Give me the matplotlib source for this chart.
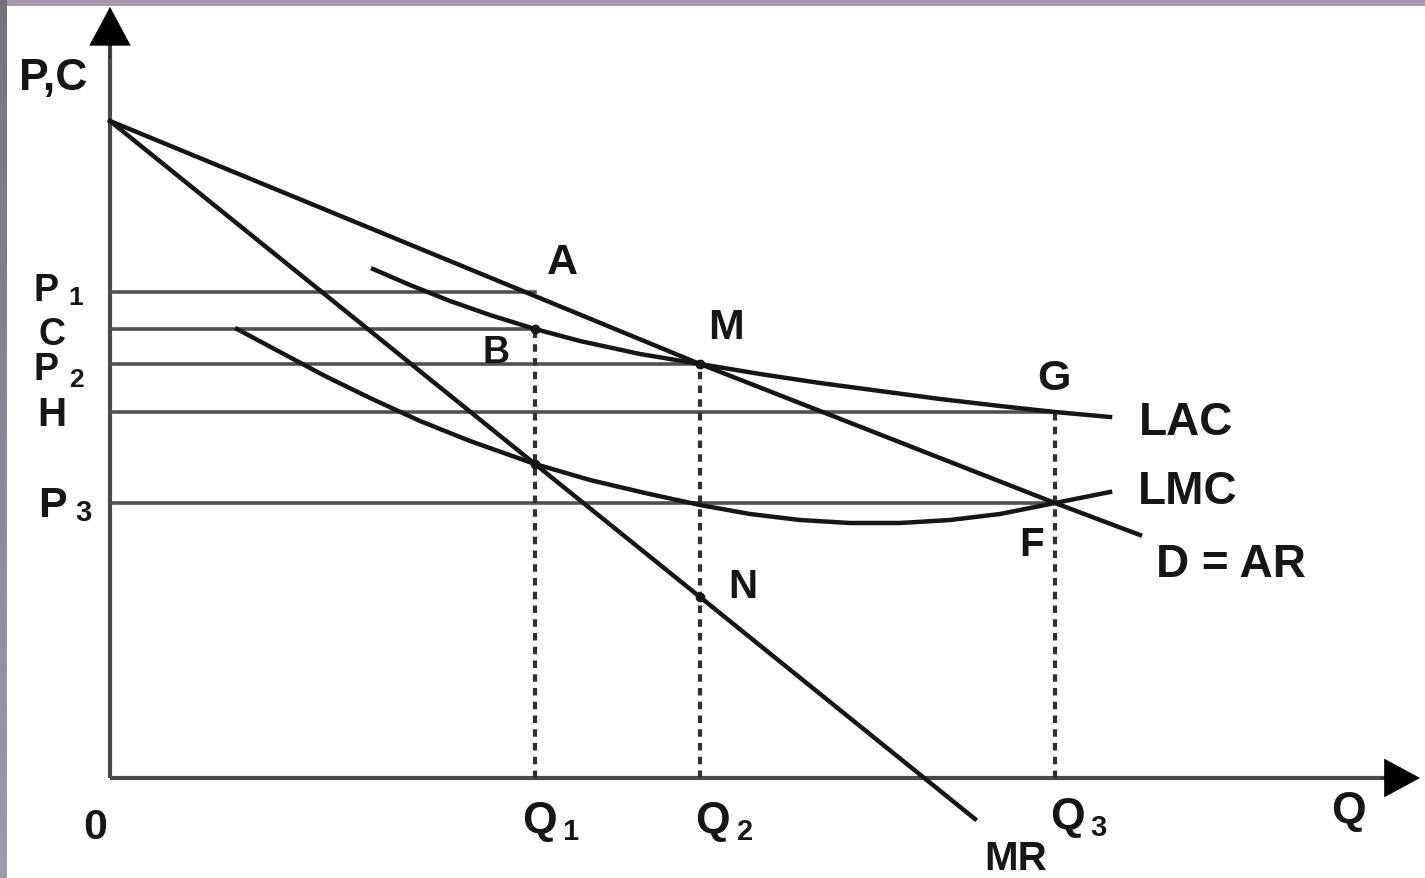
import matplotlib.pyplot as plt
import numpy as np

plt.rcParams["font.family"] = ["Liberation Sans", "DejaVu Sans"]

# quantity levels on the Q axis
q1, q2, q3 = 4.25, 5.90, 9.45
# price / cost levels on the P,C axis
p1, c_lvl, p2, h_lvl, p3 = 4.86, 4.49, 4.14, 3.66, 2.75

# demand = average revenue
ar_q = [0.0, q2, q3, 10.30]
ar_p = [6.57, p2, p3, 2.43]

# marginal revenue
mr_q = [0.0, q1, q2, 8.65]
mr_p = [6.57, 3.14, 1.81, -0.41]

# long run average cost
lac_q = [2.63, 3.0, 3.4, 3.8, q1, 4.7, 5.3, q2, 6.5, 7.1, 7.7, 8.3, 8.9, q3, 10.0]
lac_p = [5.09, 4.93, 4.77, 4.63, c_lvl, 4.37, 4.24, p2, 4.04, 3.95, 3.87, 3.79, 3.72, h_lvl, 3.61]

# long run marginal cost
lmc_q = [1.27, 1.7, 2.15, 2.6, 3.1, 3.6, q1, 4.8, 5.35, q2, 6.4, 6.9, 7.4, 7.9, 8.4, 8.9, q3, 10.0]
lmc_p = [4.49, 4.26, 4.02, 3.80, 3.57, 3.37, 3.14, 2.98, 2.85, 2.73, 2.64, 2.58, 2.55,
         2.55, 2.58, 2.64, p3, 2.86]

# horizontal guide lines: level, where it stops
hline_lvls = [p1, c_lvl, p2, h_lvl, p3]
hline_ends = [q1, q1, q2, q3, q3]

# dashed drops to the Q axis
drop_q = [q1, q2, q3]
drop_top = [c_lvl, p2, h_lvl]

# marked points
dot_q = [q1, q2, q1, q2]
dot_p = [c_lvl, p2, 3.14, 1.81]

fig = plt.figure(figsize=(14.25, 8.79), dpi=100)
ax = fig.add_axes([0, 0, 1, 1])
ax.set_xlim(-1.10, 13.15)
ax.set_ylim(-1.00, 7.79)
ax.axis("off")

ink = "#161616"
grey = "#4a4a4a"

# axes with arrow heads
ax.plot([0, 0], [0, 7.45], color=grey, lw=3.0, solid_capstyle="butt")
ax.plot([0, 12.85], [0, 0], color=grey, lw=3.0, solid_capstyle="butt")
ax.annotate("", xy=(0, 7.71), xytext=(0, 7.2),
            arrowprops=dict(arrowstyle="-|>,head_length=2.7,head_width=1.45",
                            mutation_scale=10, color="black", lw=0.5,
                            shrinkA=0, shrinkB=0))
ax.annotate("", xy=(13.10, 0.0), xytext=(12.7, 0.0),
            arrowprops=dict(arrowstyle="-|>,head_length=2.5,head_width=1.35",
                            mutation_scale=10, color="black", lw=0.5,
                            shrinkA=0, shrinkB=0))

for lvl, end in zip(hline_lvls, hline_ends):
    ax.plot([0, end], [lvl, lvl], color="#505050", lw=2.6)

for q, top in zip(drop_q, drop_top):
    ax.plot([q, q], [0, top], color="#303030", lw=3.0, dashes=(1.8, 1.5))

ax.plot(ar_q, ar_p, color=ink, lw=3.2)
ax.plot(mr_q, mr_p, color=ink, lw=3.2)
ax.plot(lac_q, lac_p, color=ink, lw=3.2)
ax.plot(lmc_q, lmc_p, color=ink, lw=3.2)
ax.plot(dot_q, dot_p, "o", color=ink, ms=6, ls="none")


def label(x, y, s, size=32, sub=None, dx=0.30, dy=-0.09, sub_size=20):
    ax.text(x, y, s, fontsize=size, fontweight="bold", color=ink,
            ha="center", va="center")
    if sub is not None:
        ax.text(x + dx, y + dy, sub, fontsize=sub_size, fontweight="bold",
                color=ink, ha="center", va="center")


label(-0.57, 7.00, "P,C", size=32)
label(-0.64, 4.88, "P", size=27, sub="1", dx=0.30, dy=-0.07, sub_size=19)
label(-0.58, 4.44, "C", size=27)
label(-0.64, 4.09, "P", size=27, sub="2", dx=0.30, dy=-0.10, sub_size=19)
label(-0.58, 3.64, "H", size=29)
label(-0.58, 2.73, "P", size=31, sub="3", dx=0.31, dy=-0.07, sub_size=21)

label(4.52, 5.16, "A", size=31)
label(3.86, 4.26, "B", size=27)
label(6.16, 4.51, "M", size=31)
label(6.33, 1.92, "N", size=29)
label(9.44, 4.00, "G", size=31)
label(9.22, 2.34, "F", size=29)
label(10.76, 3.56, "LAC", size=33)
label(10.78, 2.87, "LMC", size=33)
label(11.21, 2.14, "D = AR", size=33)

label(-0.15, -0.49, "0", size=31)
label(4.29, -0.43, "Q", size=32, sub="1", dx=0.31, dy=-0.10, sub_size=21)
label(6.02, -0.43, "Q", size=32, sub="2", dx=0.33, dy=-0.10, sub_size=21)
label(9.57, -0.39, "Q", size=32, sub="3", dx=0.31, dy=-0.10, sub_size=21)
label(12.38, -0.33, "Q", size=32)
label(9.06, -0.80, "MR", size=29)

# grey scan frame on the top and left edges
top_band = np.ones((7, 1425, 3)) * np.array([160, 154, 170]) / 255
fig.figimage(top_band, xo=0, yo=879 - 7, zorder=5)
shade = np.linspace(0.0, 1.0, 879)[:, None]
left_col = (np.array([160, 154, 170]) * (1 - shade) + np.array([118, 114, 124]) * shade) / 255
left_band = np.repeat(left_col[:, None, :], 7, axis=1)
fig.figimage(left_band[::-1], xo=0, yo=0, zorder=5, origin="upper")

fig.savefig("out.png", dpi=100)
